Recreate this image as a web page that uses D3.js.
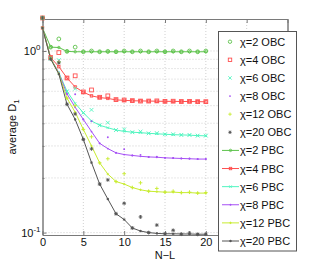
<!DOCTYPE html>
<html><head><meta charset="utf-8">
<script src="https://cdn.jsdelivr.net/npm/d3@7"></script>
<style>body{margin:0;background:#fff;}svg{display:block;font-family:"Liberation Sans",Arial,sans-serif;}</style>
</head><body><svg id="c" width="318" height="265"></svg>
<script>
// ---- data ----
const nValues = [0,1,2,3,4,5,6,7,8,9,10,11,12,13,14,15,16,17,18,19,20];
const chiLabels = ["2","4","6","8","12","20"];
const obc2  = [1.52,1.05,1.165,0.995,1.05,0.99,1.0,0.99,0.995,0.99,1.0,0.99,1.0,0.99,1.0,0.99,1.0,0.99,1.0,0.99,1.0];
const obc4  = [1.52,0.92,0.98,0.71,0.73,0.595,0.61,0.556,0.566,0.54,0.537,0.533,0.53,0.53,0.531,0.528,0.529,0.527,0.528,0.526,0.526];
const obc6  = [1.52,0.91,0.89,0.6,0.62,0.457,0.474,0.39,0.403,0.367,0.37,0.357,0.36,0.352,0.353,0.348,0.348,0.345,0.345,0.342,0.342];
const obc8  = [1.52,0.91,0.88,0.58,0.578,0.42,0.41,0.31,0.335,0.275,0.288,0.266,0.268,0.261,0.262,0.258,0.258,0.256,0.256,0.254,0.254];
const obc12 = [1.52,0.91,0.87,0.55,0.5,0.37,0.337,0.242,0.255,0.191,0.211,0.177,0.188,0.169,0.175,0.167,0.169,0.166,0.167,0.165,0.166];
const obc20 = [1.52,0.903,0.86,0.509,0.45,0.326,0.289,0.185,0.195,0.127,0.145,0.106,0.122,0.1,0.11,0.0985,0.103,0.098,0.0995,0.0978,0.098];
const pbc2  = [1.34,1.05,1.045,0.995,0.99,0.99,0.99,0.99,0.99,0.99,0.99,0.99,0.99,0.99,0.99,0.99,0.99,0.99,0.99,0.99,0.99];
const pbc4  = [1.34,0.92,0.82,0.71,0.634,0.593,0.566,0.554,0.548,0.538,0.535,0.532,0.531,0.53,0.529,0.528,0.528,0.527,0.527,0.526,0.525];
const pbc6  = [1.34,0.91,0.76,0.6,0.515,0.457,0.412,0.39,0.378,0.367,0.361,0.357,0.355,0.352,0.35,0.348,0.346,0.345,0.344,0.342,0.341];
const pbc8  = [1.34,0.91,0.755,0.58,0.49,0.42,0.36,0.31,0.29,0.275,0.269,0.266,0.263,0.261,0.26,0.258,0.257,0.256,0.255,0.254,0.254];
const pbc12 = [1.34,0.91,0.75,0.55,0.46,0.37,0.30,0.242,0.21,0.191,0.185,0.177,0.172,0.169,0.168,0.167,0.167,0.166,0.166,0.165,0.165];
const pbc20 = [1.34,0.903,0.746,0.509,0.42,0.326,0.243,0.185,0.153,0.127,0.118,0.106,0.102,0.1,0.099,0.0985,0.0985,0.0983,0.0982,0.098,0.098];
const xTicks = [0,5,10,15,20,25,30];
const yMajor = [1,0.1];
const yMinor = [0.2,0.3,0.4,0.5,0.6,0.7,0.8,0.9];

// ---- layout ----
const svg = d3.select("#c");
const L=42.5, R=287.5, T=19, B=235;
const x = d3.scaleLinear().domain([0,30]).range([L,R]);
const y = d3.scaleLog().domain([0.097,1.5]).range([B,T]);
const colors = ["#5cc24a","#ff5050","#50f5c0","#a650f5","#c8ec30","#555555"];
const obc = [obc2,obc4,obc6,obc8,obc12,obc20];
const pbc = [pbc2,pbc4,pbc6,pbc8,pbc12,pbc20];
const mk = ["circle","square","cross","dot","plus","star"];

// grid
const grid = svg.append("g").attr("stroke","#c4c4c4").attr("stroke-width",0.8).attr("stroke-dasharray","1,2");
xTicks.filter(t=>t>0&&t<30).forEach(t=>grid.append("line").attr("x1",x(t)).attr("x2",x(t)).attr("y1",T).attr("y2",B));
yMajor.concat(yMinor).forEach(t=>grid.append("line").attr("x1",L).attr("x2",R).attr("y1",y(t)).attr("y2",y(t)));

// axes (ticks inward)
const ax = svg.append("g");
const xb = ax.append("g").attr("transform",`translate(0,${B})`).call(d3.axisBottom(x).tickValues(xTicks).tickSize(-4).tickSizeOuter(0).tickFormat(d=>d<=20?d:""));
ax.append("g").attr("transform",`translate(0,${T})`).call(d3.axisTop(x).tickValues(xTicks).tickSize(-4).tickSizeOuter(0).tickFormat(""));
ax.append("g").attr("transform",`translate(${L},0)`).call(d3.axisLeft(y).tickValues(yMajor).tickSize(-4).tickSizeOuter(0).tickFormat(""));
ax.append("g").attr("transform",`translate(${L},0)`).call(d3.axisLeft(y).tickValues(yMinor).tickSize(-2).tickSizeOuter(0).tickFormat(""));
ax.append("g").attr("transform",`translate(${R},0)`).call(d3.axisRight(y).tickValues(yMajor).tickSize(-4).tickSizeOuter(0).tickFormat(""));
ax.append("g").attr("transform",`translate(${R},0)`).call(d3.axisRight(y).tickValues(yMinor).tickSize(-2).tickSizeOuter(0).tickFormat(""));
ax.selectAll("path.domain").attr("stroke","#7a7a7a");
ax.selectAll(".tick line").attr("stroke","#7a7a7a");
xb.selectAll("text").attr("font-size",11).attr("fill","#111").attr("dy","0.6em").attr("y",4);
yMajor.forEach(v=>{
  const t = svg.append("text").attr("x",L-2).attr("y",y(v)+4).attr("text-anchor","end").attr("font-size",11).attr("fill","#111");
  t.append("tspan").text("10");
  t.append("tspan").attr("font-size",8).attr("dy",-5).text(Math.round(Math.log10(v)));
});
svg.append("text").attr("x",(L+R)/2).attr("y",259).attr("text-anchor","middle").attr("font-size",11).attr("fill","#111").text("N\u2212L");
const yt = svg.append("text").attr("transform",`translate(16,${(T+B)/2}) rotate(-90)`).attr("text-anchor","middle").attr("font-size",11).attr("fill","#111");
yt.append("tspan").text("average D");
yt.append("tspan").attr("font-size",8).attr("dy",3).text("1");

// markers
function marker(g,kind,cx,cy,s,col){
  const sw=0.9;
  if(kind==="circle") g.append("circle").attr("cx",cx).attr("cy",cy).attr("r",s).attr("fill","none").attr("stroke",col).attr("stroke-width",sw);
  else if(kind==="square") g.append("rect").attr("x",cx-s).attr("y",cy-s).attr("width",2*s).attr("height",2*s).attr("fill","none").attr("stroke",col).attr("stroke-width",sw);
  else if(kind==="cross") g.append("path").attr("d",`M${cx-s},${cy-s}L${cx+s},${cy+s}M${cx-s},${cy+s}L${cx+s},${cy-s}`).attr("stroke",col).attr("stroke-width",sw);
  else if(kind==="dot") g.append("circle").attr("cx",cx).attr("cy",cy).attr("r",Math.max(0.9,s*0.5)).attr("fill",col);
  else if(kind==="plus") g.append("path").attr("d",`M${cx-s},${cy}L${cx+s},${cy}M${cx},${cy-s}L${cx},${cy+s}`).attr("stroke",col).attr("stroke-width",sw);
  else if(kind==="star") g.append("path").attr("d",`M${cx-s},${cy}L${cx+s},${cy}M${cx},${cy-s}L${cx},${cy+s}M${cx-s*0.7},${cy-s*0.7}L${cx+s*0.7},${cy+s*0.7}M${cx-s*0.7},${cy+s*0.7}L${cx+s*0.7},${cy-s*0.7}`).attr("stroke",col).attr("stroke-width",sw);
}
const plot = svg.append("g");
const line = d3.line().x((d,i)=>x(nValues[i])).y(d=>y(d));
pbc.forEach((s,k)=>{
  plot.append("path").attr("d",line(s)).attr("fill","none").attr("stroke",colors[k]).attr("stroke-width",1);
  s.forEach((v,i)=>marker(plot,mk[k],x(nValues[i]),y(v),1.2,colors[k]));
});
obc.forEach((s,k)=>{
  s.forEach((v,i)=>marker(plot,mk[k],x(nValues[i]),y(v),1.9,colors[k]));
});

// legend
const lg = svg.append("g");
const LX=218.5, LY=31.5, LW=78, LH=219.5;
lg.append("rect").attr("x",LX).attr("y",LY).attr("width",LW).attr("height",LH).attr("fill","#fff").attr("stroke","#555").attr("stroke-width",1);
const rowY = d3.scaleLinear().domain([0,11]).range([41.7,241]);
chiLabels.forEach((c,k)=>{
  const yy=rowY(k);
  marker(lg,mk[k],230,yy,1.7,colors[k]);
  lg.append("text").attr("x",240).attr("y",yy+4).attr("font-size",11).attr("fill","#111").text("\u03c7=" + c + " OBC");
});
chiLabels.forEach((c,k)=>{
  const yy=rowY(k+6);
  lg.append("line").attr("x1",222).attr("x2",239).attr("y1",yy).attr("y2",yy).attr("stroke",colors[k]).attr("stroke-width",1);
  marker(lg,mk[k],230.5,yy,1.2,colors[k]);
  lg.append("text").attr("x",240).attr("y",yy+4).attr("font-size",11).attr("fill","#111").text("\u03c7=" + c + " PBC");
});
</script></body></html>
